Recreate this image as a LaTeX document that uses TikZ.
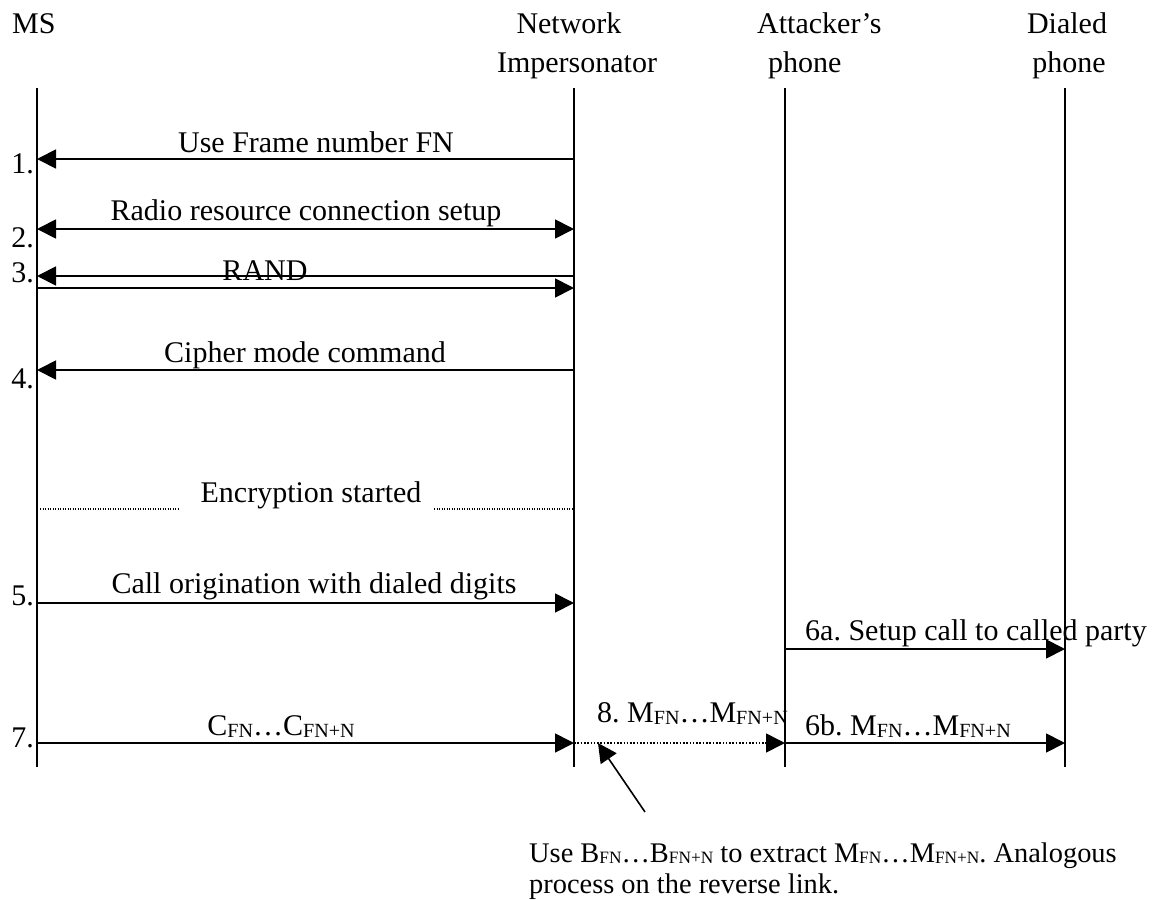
\documentclass[tikz,border=0pt]{standalone}
\usepackage{fontspec}
\setmainfont{Liberation Serif}
\usetikzlibrary{arrows.meta}
% lowered, reduced subscripts in the style of a word processor
\newcommand\lsub[1]{\raisebox{-0.07em}{\scalebox{0.67}{#1}}}
\newcommand\nsub[1]{\raisebox{-0.07em}{\scalebox{0.61}{#1}}}

\begin{document}
\begin{tikzpicture}[x=1pt,y=-1pt,
  font=\fontsize{30}{36}\selectfont\frenchspacing,
  life/.style={line width=1.6pt},
  tip/.tip={Triangle[length=19pt,width=19pt]},
  msg/.style={line width=1.8pt,-tip},
  both/.style={line width=1.8pt,tip-tip},
  dots/.style={line width=1.2pt,dash pattern=on 1.2pt off 1.3pt},
  dotmsg/.style={line width=1.6pt,dash pattern=on 1.6pt off 1.7pt,-tip},
  lbl/.style={inner sep=0pt,anchor=base},
  lblw/.style={inner sep=0pt,anchor=base west},
  num/.style={inner sep=0pt,anchor=base east},
  note/.style={inner sep=0pt,anchor=base west,font=\fontsize{28.4}{31}\selectfont\frenchspacing},
]
\useasboundingbox (0,0) rectangle (1168,900);

% column headings
\node[lblw] (hMS)  at (12,33)   {MS};
\node[lbl]  (hNI1) at (569,33)  {Network};
\node[lbl]  (hNI2) at (577,72)  {Impersonator};
\node[lblw] (hAP1) at (757,33)  {Attacker’s};
\node[lblw] (hAP2) at (768,72)  {phone};
\node[lbl]  (hDP1) at (1067,33) {Dialed};
\node[lbl]  (hDP2) at (1069,72) {phone};

% lifelines
\foreach \n/\x in {ms/37, ni/574, ap/785, dp/1065}{
  \coordinate (\n top) at (\x,88);
  \coordinate (\n bot) at (\x,767);
  \draw[life] (\n top) -- (\n bot);
}

% message end points on the lifelines
\foreach \n/\x in {ms/37, ni/574, ap/785, dp/1065}{
  \foreach \k/\y in {1/159, 2/229, 3/276, 3b/288, 4/370, 5/603, 6/649, 7/743}{
    \coordinate (\n\k) at (\x,\y);
  }
}

% 1. frame number
\draw[msg] (ni1) -- (ms1);
\node[lbl] (t1) at (316,152) {Use Frame number FN};
\node[num] (n1) at (34,173) {1.};

% 2. radio resource connection
\draw[both] (ms2) -- (ni2);
\node[lbl] (t2) at (306,220) {Radio resource connection setup};
\node[num] (n2) at (34,247) {2.};

% 3. challenge and response
\draw[msg] (ni3) -- (ms3);
\draw[msg] (ms3b) -- (ni3b);
\node[lbl] (t3) at (265,280) {RAND};
\node[num] (n3) at (34,282) {3.};

% 4. cipher mode
\draw[msg] (ni4) -- (ms4);
\node[lbl] (t4) at (305,362) {Cipher mode command};
\node[num] (n4) at (34,388) {4.};

% encryption starts
\coordinate (encL1) at (40,509);
\coordinate (encL2) at (179,509);
\coordinate (encR1) at (434,509);
\coordinate (encR2) at (573,509);
\draw[dots] (encL1) -- (encL2);
\draw[dots] (encR1) -- (encR2);
\node[lbl] (tEnc) at (311,502) {Encryption started};

% 5. call origination
\draw[msg] (ms5) -- (ni5);
\node[lbl] (t5) at (314,593) {Call origination with dialed digits};
\node[num] (n5) at (34,605) {5.};

% 6a. call set-up
\draw[msg] (ap6) -- (dp6);
\node[lblw] (t6a) at (805,640) {6a. Setup call to called party};

% 7. ciphertext, 8. recovered plaintext, 6b. forwarded plaintext
\draw[msg] (ms7) -- (ni7);
\node[lbl] (t7) at (281,735) {C\lsub{FN}…C\lsub{FN+N}};
\node[num] (n7) at (34,747) {7.};
\draw[dotmsg] (ni7) -- (ap7);
\node[lblw] (t8) at (597,722) {8. M\lsub{FN}…M\lsub{FN+N}};
\draw[msg] (ap7) -- (dp7);
\node[lblw] (t6b) at (805,735) {6b. M\lsub{FN}…M\lsub{FN+N}};

% explanatory note with pointer
\coordinate (ptrTip) at (598,743);
\coordinate (ptrEnd) at (645,812);
\draw[line width=1.6pt,-tip] (ptrEnd) -- (ptrTip);
\node[note] (noteA) at (529,862) {Use B\nsub{FN}…B\nsub{FN+N} to extract M\nsub{FN}…M\nsub{FN+N}. Analogous};
\node[note] (noteB) at (529,893) {process on the reverse link.};
\end{tikzpicture}
\end{document}
